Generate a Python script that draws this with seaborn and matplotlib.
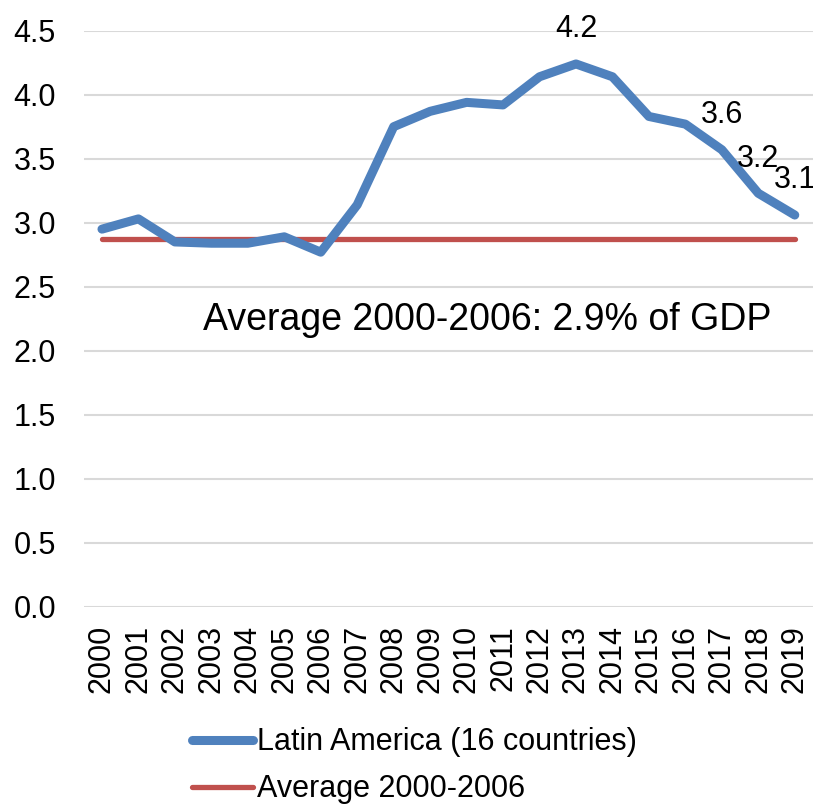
import pandas as pd
import matplotlib.pyplot as plt
import seaborn as sns

###############################################################################
# Data
###############################################################################
years = [str(y) for y in range(2000, 2020)]
latam = [2.95, 3.03, 2.85, 2.84, 2.84, 2.89, 2.77, 3.14, 3.75, 3.87,
         3.94, 3.92, 4.14, 4.24, 4.14, 3.83, 3.77, 3.57, 3.23, 3.06]
avg_2000_2006 = [2.875] * len(years)

label_years = ["2013", "2017", "2018", "2019"]
label_texts = ["4.2", "3.6", "3.2", "3.1"]

yticks = [0.0, 0.5, 1.0, 1.5, 2.0, 2.5, 3.0, 3.5, 4.0, 4.5]

series_names = ["Latin America (16 countries)", "Average 2000-2006"]
note = "Average 2000-2006: 2.9% of GDP"

###############################################################################
# Build a long table for seaborn
###############################################################################
df = pd.DataFrame({
    "year": years * 2,
    "value": latam + avg_2000_2006,
    "series": [series_names[0]] * len(years) + [series_names[1]] * len(years),
})

###############################################################################
# Plot
###############################################################################
sns.set_style("white")
plt.rcParams["font.family"] = ["Liberation Sans", "DejaVu Sans"]
plt.rcParams["text.color"] = "black"
plt.rcParams["xtick.color"] = "black"
plt.rcParams["ytick.color"] = "black"

fig = plt.figure(figsize=(8.13, 8.07), dpi=100)
ax = fig.add_axes([0.103, 0.248, 0.897, 0.714])

palette = {series_names[0]: "#4F81BD", series_names[1]: "#C0504D"}
sns.lineplot(data=df, x="year", y="value", hue="series", palette=palette,
             sort=False, ax=ax, legend=False)
ax.lines[0].set_linewidth(6.5)
ax.lines[1].set_linewidth(3.8)
ax.lines[0].set_solid_capstyle("round")
ax.lines[1].set_solid_capstyle("round")
ax.lines[0].set_solid_joinstyle("round")
ax.lines[0].set_zorder(3)
ax.lines[1].set_zorder(2)

ax.set_ylim(0, 4.5)
ax.set_xlim(-0.5, len(years) - 0.5)
ax.set_yticks(yticks)
ax.set_yticklabels([f"{t:.1f}" for t in yticks])
ax.yaxis.grid(True, color="#D9D9D9", linewidth=1.5)
ax.set_axisbelow(True)
ax.tick_params(axis="y", length=0, pad=20, labelsize=22)
ax.tick_params(axis="x", length=0, pad=13, labelsize=22, rotation=90)
ax.set_xlabel("")
ax.set_ylabel("")
for s in ax.spines.values():
    s.set_visible(False)

# data labels
for yr, txt in zip(label_years, label_texts):
    i = years.index(yr)
    ax.annotate(txt, (i, latam[i]), xytext=(0, 25), textcoords="offset points",
                ha="center", va="center", fontsize=22)

ax.text(2.76, 2.24, note, ha="left", va="center", fontsize=27)

# legend below the plot
handles = [plt.Line2D([], [], color=palette[n], linewidth=ln) for n, ln in zip(series_names, [6.5, 3.8])]
fig.legend(handles, series_names, loc="center", bbox_to_anchor=(0.51, 0.051),
           frameon=False, fontsize=22, handlelength=2.0, handletextpad=0.12,
           labelspacing=0.55, ncol=1)

fig.savefig("out.png", dpi=100)
